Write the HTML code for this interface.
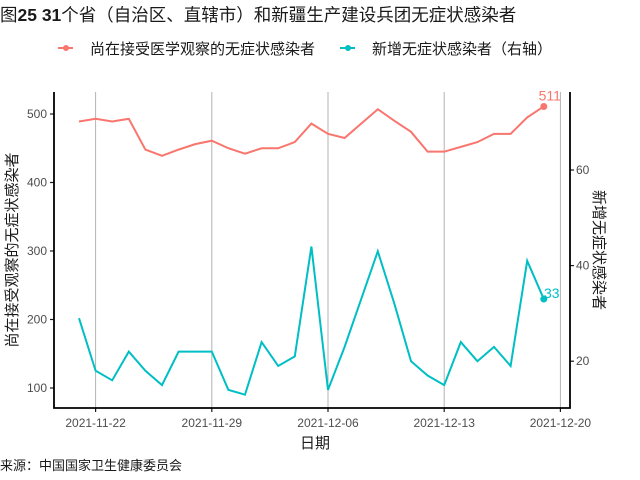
<!DOCTYPE html>
<html><head><meta charset="utf-8"><style>
body{margin:0;background:#fff;}
svg{display:block;font-family:"Liberation Sans","Noto Sans CJK SC",sans-serif;}
</style></head><body>
<svg id="c" width="640" height="480" viewBox="0 0 640 480">
<text x="0" y="21" font-size="17.5" fill="#1a1a1a">图<tspan font-weight="bold">25 31</tspan>个省（自治区、直辖市）和新疆生产建设兵团无症状感染者</text>
<g>
<g>
<line x1="58" y1="48" x2="73" y2="48" stroke="#F8766D" stroke-width="2"/>
<circle cx="66" cy="48" r="3" fill="#F8766D"/>
<text x="90" y="54" font-size="15" fill="#1a1a1a">尚在接受医学观察的无症状感染者</text></g>
<g>
<line x1="340" y1="48" x2="355" y2="48" stroke="#00BFC4" stroke-width="2"/>
<circle cx="348" cy="48" r="3" fill="#00BFC4"/>
<text x="372" y="54" font-size="15" fill="#1a1a1a">新增无症状感染者（右轴）</text></g>
</g>
<g id="plot"></g>
<text x="315" y="448" font-size="15" text-anchor="middle" fill="#1a1a1a">日期</text>
<text transform="translate(17,250) rotate(-90)" font-size="15" text-anchor="middle" fill="#1a1a1a">尚在接受观察的无症状感染者</text>
<text transform="translate(594,250) rotate(90)" font-size="15" text-anchor="middle" fill="#1a1a1a">新增无症状感染者</text>
<text x="0" y="470" font-size="13" fill="#1a1a1a">来源：中国国家卫生健康委员会</text>
</svg>
<script>
const observed=[489,493,489,493,448,439,448,456,461,450,442,450,450,459,486,471,465,486,507,490,474,445,445,452,459,471,471,495,511];
const newCases=[29,18,16,22,18,15,22,22,22,14,13,24,19,21,44,14,23,33,43,32,20,17,15,24,20,23,19,41,33];
const leftTicks=[100,200,300,400,500];
const rightTicks=[20,40,60];
const xTickLabels=["2021-11-22","2021-11-29","2021-12-06","2021-12-13","2021-12-20"];
const xTickDays=[1,8,15,22,29];
const NS="http://www.w3.org/2000/svg";
const g=document.getElementById('plot');
const X=d=>79+d*16.6;
const YL=v=>114+(500-v)*0.685;
const YR=v=>170+(60-v)*4.78;
function el(t,a){const e=document.createElementNS(NS,t);for(const k in a)e.setAttribute(k,a[k]);g.appendChild(e);return e;}
xTickDays.forEach((d,i)=>{
 const gl=el('line',{x1:X(d),x2:X(d),y1:92,y2:408,stroke:'#b3b3b3','stroke-width':1});
 
 
 const t=el('line',{x1:X(d),x2:X(d),y1:408,y2:412,stroke:'#1a1a1a','stroke-width':1.2});
 
 
 const tx=el('text',{x:X(d),y:427,'font-size':12,'text-anchor':'middle',fill:'#4d4d4d'});
 tx.textContent=xTickLabels[i];
 
 
});
leftTicks.forEach(v=>{
 const t=el('line',{x1:50,x2:54,y1:YL(v),y2:YL(v),stroke:'#1a1a1a','stroke-width':1.2});
 
 
 const tx=el('text',{x:47,y:YL(v)+4,'font-size':12,'text-anchor':'end',fill:'#4d4d4d'});
 tx.textContent=v;
 
 
});
rightTicks.forEach(v=>{
 const t=el('line',{x1:570,x2:574,y1:YR(v),y2:YR(v),stroke:'#1a1a1a','stroke-width':1.2});
 
 
 const tx=el('text',{x:576,y:YR(v)+4,'font-size':12,fill:'#4d4d4d'});
 tx.textContent=v;
 
 
});
const ax=el('path',{d:'M54 92 V408 H570 V92',fill:'none',stroke:'#000','stroke-width':1.8});


const p1=el('polyline',{points:observed.map((v,i)=>X(i)+','+YL(v)).join(' '),fill:'none',stroke:'#F8766D','stroke-width':2});


const p2=el('polyline',{points:newCases.map((v,i)=>X(i)+','+YR(v)).join(' '),fill:'none',stroke:'#00BFC4','stroke-width':2});


const li=observed.length-1;
const c1=el('circle',{cx:X(li),cy:YL(observed[li]),r:3.5,fill:'#F8766D'});


const l1=el('text',{x:X(li)+6,y:YL(observed[li])-6,'font-size':14,'text-anchor':'middle',fill:'#F8766D'});
l1.textContent=observed[li];


const c2=el('circle',{cx:X(li),cy:YR(newCases[li]),r:3.5,fill:'#00BFC4'});


const l2=el('text',{x:X(li)+8,y:YR(newCases[li])-1,'font-size':14,'text-anchor':'middle',fill:'#00BFC4'});
l2.textContent=newCases[li];


</script>
</body></html>
